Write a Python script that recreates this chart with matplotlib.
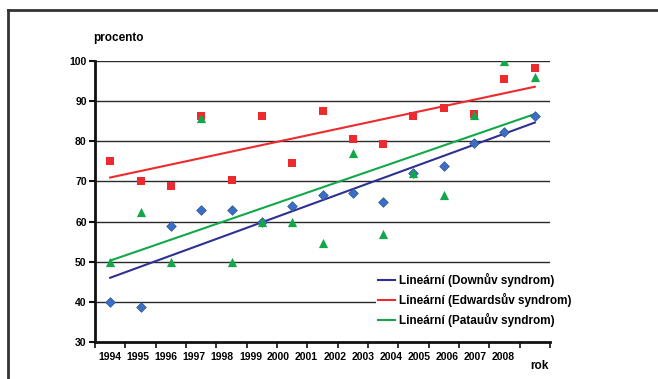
import numpy as np
import matplotlib.pyplot as plt
from matplotlib.lines import Line2D

plt.rcParams['font.family'] = ['Liberation Sans', 'DejaVu Sans']
plt.rcParams['font.weight'] = 'bold'

years = [str(y) for y in range(1994, 2009)]
downuv = [39.9, 38.7, 58.9, 63.0, 62.8, 60.0, 64.0, 66.7, 67.2, 64.8, 72.0, 73.9, 79.5, 82.4, 86.2]
edwardsuv = [75.0, 70.1, 68.9, 86.4, 70.4, 86.3, 74.5, 87.6, 80.6, 79.2, 86.2, 88.4, 86.8, 95.5, 98.3]
patauuv = [50.0, 62.4, 50.0, 85.7, 50.0, 60.0, 60.0, 54.7, 77.0, 57.0, 72.1, 66.6, 86.5, 100.0, 95.9]

C_BLUE_PT = '#3b6fc4'
C_BLUE = '#2e3192'
C_RED = '#ed2a2e'
C_GREEN = '#12a84a'

W, H = 658, 379
fig = plt.figure(figsize=(W / 100, H / 100), dpi=100)
ax = fig.add_axes([95 / W, 1 - 342 / H, 455 / W, 281 / H])

x = np.arange(1, len(years) + 1)

# outer frame (left and top edges only)
fig.add_artist(Line2D([8 / W, 8 / W], [0, 1 - 10 / H], color='#333333', lw=2, transform=fig.transFigure))
fig.add_artist(Line2D([8 / W, 1], [1 - 10 / H, 1 - 10 / H], color='#333333', lw=2, transform=fig.transFigure))

for v in range(40, 101, 10):
    ax.axhline(v, color='#2a2a2a', lw=1, zorder=1)

ax.scatter(x, downuv, marker='D', s=24, color=C_BLUE_PT, edgecolor='#2a4f9a', lw=0.5, zorder=3)
ax.scatter(x, edwardsuv, marker='s', s=38, color=C_RED, lw=0, zorder=3)
ax.scatter(x, patauuv, marker='^', s=44, color=C_GREEN, lw=0, zorder=4)

# linear trend lines
handles = []
for vals, col, name in [(downuv, C_BLUE, 'Downův'), (edwardsuv, C_RED, 'Edwardsův'), (patauuv, C_GREEN, 'Patauův')]:
    k, q = np.polyfit(x, vals, 1)
    h, = ax.plot(x, k * x + q, color=col, lw=1.5, zorder=2, label=f'Lineární ({name} syndrom)')
    handles.append(h)

ax.set_xlim(0.5, len(years) + 0.5)
ax.set_ylim(30, 100)
ax.set_yticks(range(30, 101, 10))
ax.set_xticks(np.arange(0.5, len(years) + 1))
ax.set_xticklabels([])
ax.tick_params(axis='y', labelsize=7.5, length=4, width=1.5, pad=2, color='#111111')
ax.tick_params(axis='x', length=4, width=1.2, direction='out', color='#111111')

# year labels run on a slightly tighter step than the categories
step = 0.925
for i, yr in enumerate(years):
    ax.text(1 + i * step, 26.3, yr, ha='center', va='center', fontsize=7.5, fontweight='bold', clip_on=False)

for s in ['top', 'right']:
    ax.spines[s].set_visible(False)
for s in ['left', 'bottom']:
    ax.spines[s].set_linewidth(2)
    ax.spines[s].set_color('#111111')

fig.text(93 / W, 1 - 38 / H, 'procento', fontsize=8.5, fontweight='bold', va='center', ha='left')
fig.text(539 / W, 1 - 366 / H, 'rok', fontsize=8.5, fontweight='bold', va='center', ha='center')

leg = ax.legend(handles=handles, loc='upper left', bbox_to_anchor=(376 / W, 1 - 271 / H),
                bbox_transform=fig.transFigure, frameon=True, facecolor='white', edgecolor='none',
                framealpha=1, fancybox=False, borderaxespad=0, borderpad=0.2, handlelength=1.45,
                handletextpad=0.3, labelspacing=0.5, prop={'size': 8.5, 'weight': 'bold'})
leg.set_zorder(5)

fig.savefig('out.png', dpi=100)
